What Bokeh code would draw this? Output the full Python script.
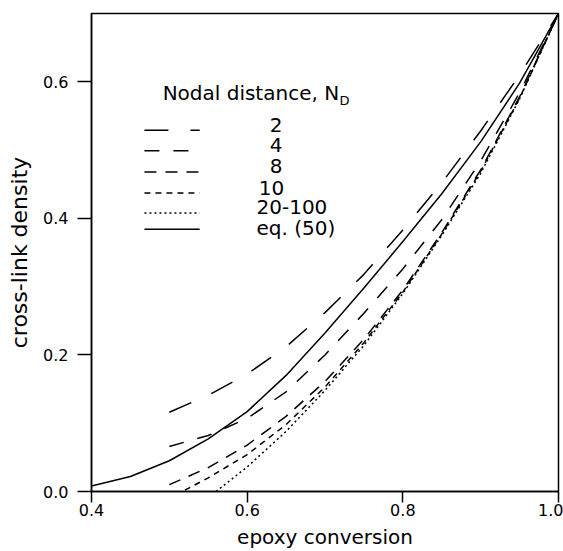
from bokeh.plotting import figure
from bokeh.models import Range1d, FixedTicker, PrintfTickFormatter, Label
from bokeh.embed import file_html
from bokeh.resources import INLINE

# ---- data ----
conv_eq = [0.40, 0.45, 0.50, 0.55, 0.60, 0.65, 0.70, 0.75, 0.80, 0.85, 0.90, 0.95, 1.00]
xl_eq = [0.008, 0.022, 0.045, 0.077, 0.117, 0.170, 0.232, 0.298, 0.366, 0.436, 0.512, 0.598, 0.700]

conv_2 = [0.50, 0.55, 0.60, 0.65, 0.70, 0.75, 0.80, 0.85, 0.90, 0.95, 1.00]
xl_2 = [0.116, 0.141, 0.172, 0.212, 0.262, 0.318, 0.383, 0.452, 0.528, 0.610, 0.700]

conv_4 = [0.50, 0.55, 0.60, 0.65, 0.70, 0.75, 0.80, 0.85, 0.90, 0.95, 1.00]
xl_4 = [0.066, 0.082, 0.107, 0.146, 0.200, 0.261, 0.326, 0.398, 0.484, 0.584, 0.700]

conv_8 = [0.50, 0.55, 0.60, 0.65, 0.70, 0.75, 0.80, 0.85, 0.90, 0.95, 1.00]
xl_8 = [0.010, 0.035, 0.068, 0.110, 0.161, 0.223, 0.295, 0.379, 0.471, 0.578, 0.700]

conv_10 = [0.52, 0.55, 0.60, 0.65, 0.70, 0.75, 0.80, 0.85, 0.90, 0.95, 1.00]
xl_10 = [0.002, 0.020, 0.054, 0.098, 0.153, 0.218, 0.292, 0.377, 0.469, 0.576, 0.700]

conv_20 = [0.56, 0.60, 0.65, 0.70, 0.75, 0.80, 0.85, 0.90, 0.95, 1.00]
xl_20 = [0.000, 0.036, 0.088, 0.148, 0.214, 0.290, 0.375, 0.466, 0.575, 0.700]

x_ticks = [0.4, 0.6, 0.8, 1.0]
y_ticks = [0.0, 0.2, 0.4, 0.6]

legend_title = "Nodal distance, N"
legend_sub = "D"
legend_labels = ["2", "4", "8", "10", "20-100", "eq. (50)"]
series = [(conv_2, xl_2), (conv_4, xl_4), (conv_8, xl_8),
          (conv_10, xl_10), (conv_20, xl_20), (conv_eq, xl_eq)]
dashes = ["24 22", "15 14", "12 9", "6 5", "2 3", "solid"]

FONT = "DejaVu Sans"

p = figure(frame_width=467, frame_height=478, output_backend="svg",
           toolbar_location=None, x_range=Range1d(0.4, 1.0), y_range=Range1d(0.0, 0.7),
           min_border_left=91, min_border_top=13, min_border_right=5, min_border_bottom=40)
p.background_fill_color = "white"
p.border_fill_color = "white"
p.grid.visible = False
p.outline_line_color = "black"
p.outline_line_width = 1.5

for ax in (p.xaxis[0], p.yaxis[0]):
    ax.minor_tick_line_color = None
    ax.major_tick_in = 0
    ax.axis_line_width = 1.5
    ax.major_tick_line_width = 1.5
    ax.axis_line_color = "black"
    ax.major_tick_line_color = "black"
    ax.major_label_text_font = FONT
    ax.major_label_text_font_size = "16px"
    ax.major_label_text_color = "black"
    ax.axis_label_text_font = FONT
    ax.axis_label_text_font_style = "normal"
    ax.axis_label_text_color = "black"
    ax.formatter = PrintfTickFormatter(format="%.1f")

p.xaxis.ticker = FixedTicker(ticks=x_ticks)
p.yaxis.ticker = FixedTicker(ticks=y_ticks)
p.xaxis.major_tick_out = 11
p.yaxis.major_tick_out = 14
p.xaxis.major_label_standoff = 1
p.yaxis.major_label_standoff = 9
p.xaxis.axis_label = "epoxy conversion"
p.yaxis.axis_label = "cross-link density"
p.xaxis.axis_label_text_font_size = "20px"
p.yaxis.axis_label_text_font_size = "22px"
p.xaxis.axis_label_standoff = 6
p.yaxis.axis_label_standoff = 8

for (xs, ys), d in zip(series, dashes):
    p.line(xs, ys, line_color="black", line_width=1.5, line_dash=d)

# ---- manual legend (positions in data units) ----
leg_x0, leg_x1 = 0.468, 0.539
row_y = [0.537, 0.507, 0.476, 0.445, 0.416, 0.386]
text_x = [0.629, 0.629, 0.629, 0.615, 0.612, 0.612]
for i, (lab, d) in enumerate(zip(legend_labels, dashes)):
    yy = row_y[i] + (-0.008 if i < 5 else -0.002)
    p.line([leg_x0, leg_x1], [yy, yy], line_color="black", line_width=1.5, line_dash=d)
    p.add_layout(Label(x=text_x[i], y=row_y[i], text=lab, text_align="left",
                       text_baseline="middle", text_font=FONT, text_font_size="20px",
                       text_color="black"))

p.add_layout(Label(x=0.4914, y=0.584, text=legend_title, text_align="left",
                   text_baseline="middle", text_font=FONT, text_font_size="20px",
                   text_color="black"))
p.add_layout(Label(x=0.7185, y=0.573, text=legend_sub, text_align="left",
                   text_baseline="middle", text_font=FONT, text_font_size="13px",
                   text_color="black"))

open("out.html", "w").write(file_html(p, INLINE))
